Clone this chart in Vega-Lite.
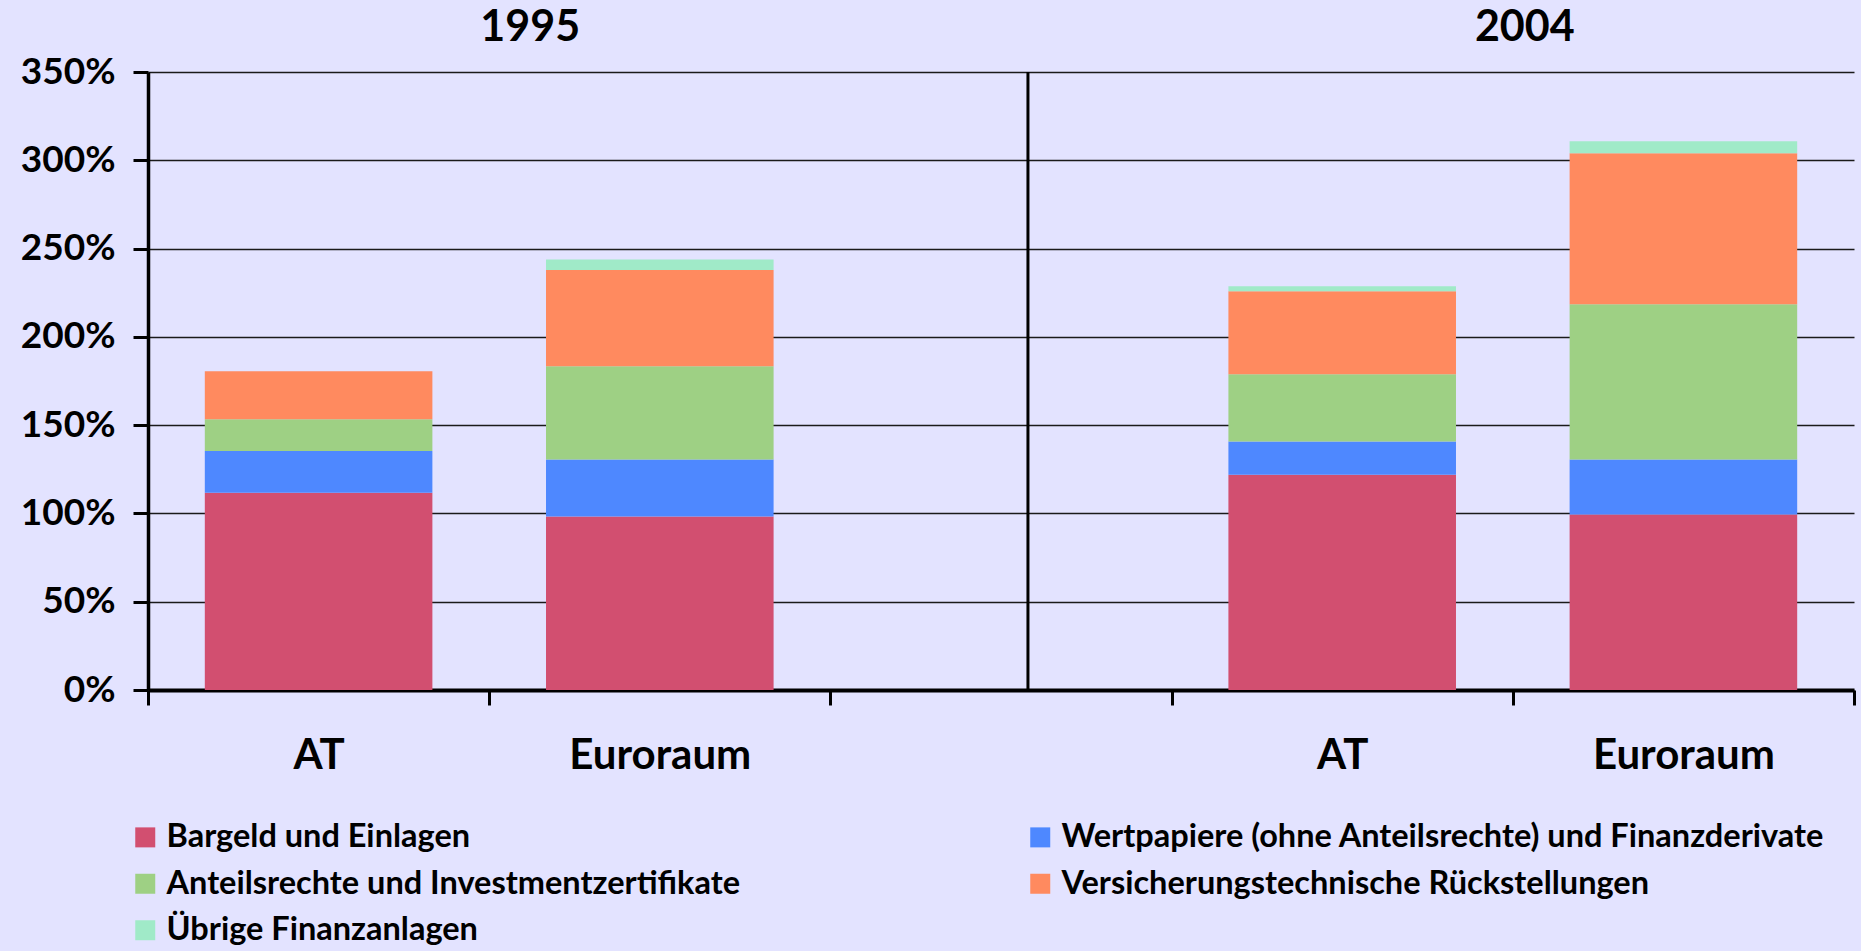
{
  "$schema": "https://vega.github.io/schema/vega-lite/v6.json",
  "width": 1706,
  "height": 618,
  "autosize": {"type": "none"},
  "padding": {"left": 148, "top": 72, "right": 7, "bottom": 261},
  "background": "#E3E3FF",
  "config": {"view": {"stroke": null}, "font": "Lato"},
  "datasets": {
    "bars": [
      {"cat": "AT 1995", "type": "Bargeld und Einlagen", "o": 1, "value": 111.7},
      {"cat": "AT 1995", "type": "Wertpapiere (ohne Anteilsrechte) und Finanzderivate", "o": 2, "value": 23.6},
      {"cat": "AT 1995", "type": "Anteilsrechte und Investmentzertifikate", "o": 3, "value": 18.0},
      {"cat": "AT 1995", "type": "Versicherungstechnische Rückstellungen", "o": 4, "value": 27.2},
      {"cat": "AT 1995", "type": "Übrige Finanzanlagen", "o": 5, "value": 0},
      {"cat": "Euroraum 1995", "type": "Bargeld und Einlagen", "o": 1, "value": 98.3},
      {"cat": "Euroraum 1995", "type": "Wertpapiere (ohne Anteilsrechte) und Finanzderivate", "o": 2, "value": 32.3},
      {"cat": "Euroraum 1995", "type": "Anteilsrechte und Investmentzertifikate", "o": 3, "value": 52.7},
      {"cat": "Euroraum 1995", "type": "Versicherungstechnische Rückstellungen", "o": 4, "value": 54.5},
      {"cat": "Euroraum 1995", "type": "Übrige Finanzanlagen", "o": 5, "value": 6.0},
      {"cat": "AT 2004", "type": "Bargeld und Einlagen", "o": 1, "value": 121.9},
      {"cat": "AT 2004", "type": "Wertpapiere (ohne Anteilsrechte) und Finanzderivate", "o": 2, "value": 18.9},
      {"cat": "AT 2004", "type": "Anteilsrechte und Investmentzertifikate", "o": 3, "value": 38.0},
      {"cat": "AT 2004", "type": "Versicherungstechnische Rückstellungen", "o": 4, "value": 47.0},
      {"cat": "AT 2004", "type": "Übrige Finanzanlagen", "o": 5, "value": 2.8},
      {"cat": "Euroraum 2004", "type": "Bargeld und Einlagen", "o": 1, "value": 99.4},
      {"cat": "Euroraum 2004", "type": "Wertpapiere (ohne Anteilsrechte) und Finanzderivate", "o": 2, "value": 31.2},
      {"cat": "Euroraum 2004", "type": "Anteilsrechte und Investmentzertifikate", "o": 3, "value": 87.8},
      {"cat": "Euroraum 2004", "type": "Versicherungstechnische Rückstellungen", "o": 4, "value": 85.6},
      {"cat": "Euroraum 2004", "type": "Übrige Finanzanlagen", "o": 5, "value": 6.8}
    ],
    "sep": [{"cat": "gap"}],
    "t1": [{"cat": "Euroraum 1995", "label": "1995"}],
    "t2": [{"cat": "Euroraum 2004", "label": "2004"}]
  },
  "layer": [
    {
      "data": {"name": "bars"},
      "mark": {"type": "bar", "width": {"band": 0.667}},
      "encoding": {
        "x": {
          "field": "cat", "type": "nominal",
          "scale": {"domain": ["AT 1995", "Euroraum 1995", "gap", "AT 2004", "Euroraum 2004"], "paddingInner": 0, "paddingOuter": 0},
          "axis": {
            "title": null, "tickBand": "extent", "grid": false, "labelAngle": 0,
            "labelExpr": "(!datum.value || datum.value == 'gap') ? '' : split(datum.value, ' ')[0]",
            "labelFont": "Lato", "labelFontSize": 42, "labelFontWeight": "bold", "labelColor": "#000",
            "labelPadding": 50, "labelBaseline": "middle", "labelLimit": 500,
            "tickSize": 15, "tickWidth": 3, "tickColor": "#000",
            "domainWidth": 4, "domainColor": "#000"
          }
        },
        "y": {
          "field": "value", "type": "quantitative", "stack": "zero",
          "scale": {"domain": [0, 350]},
          "axis": {
            "title": null, "values": [0, 50, 100, 150, 200, 250, 300, 350],
            "labelExpr": "datum.value + '%'",
            "labelFont": "Lato", "labelFontSize": 37, "labelFontWeight": "bold", "labelColor": "#000",
            "labelPadding": 18,
            "grid": true, "gridColor": "#1a1a1a", "gridWidth": 1.5,
            "tickSize": 15, "tickWidth": 3, "tickColor": "#000",
            "domainWidth": 3.5, "domainColor": "#000"
          }
        },
        "order": {"field": "o", "type": "quantitative"},
        "color": {
          "field": "type", "type": "nominal",
          "scale": {
            "domain": ["Bargeld und Einlagen", "Wertpapiere (ohne Anteilsrechte) und Finanzderivate", "Anteilsrechte und Investmentzertifikate", "Versicherungstechnische Rückstellungen", "Übrige Finanzanlagen"],
            "range": ["#D24F70", "#4E88FF", "#9ED084", "#FF8A5F", "#A0EAC8"]
          },
          "legend": {
            "orient": "none", "legendX": -19, "legendY": 749, "columns": 2, "direction": "horizontal", "title": null,
            "padding": 0, "offset": 0,
            "symbolType": "square", "symbolSize": 400, "symbolStrokeWidth": 0, "symbolOpacity": 1,
            "labelFont": "Lato", "labelFontSize": 32.5, "labelFontWeight": "bold", "labelColor": "#000",
            "labelOffset": 5, "labelLimit": 1000, "rowPadding": 13.5, "columnPadding": 283
          }
        }
      }
    },
    {
      "data": {"name": "sep"},
      "mark": {"type": "rule", "color": "#000", "strokeWidth": 3},
      "encoding": {
        "x": {"field": "cat", "type": "nominal", "bandPosition": 0.579},
        "y": {"datum": 0},
        "y2": {"datum": 350}
      }
    },
    {
      "data": {"name": "t1"},
      "mark": {"type": "text", "font": "Lato", "fontSize": 43, "fontWeight": "bold", "color": "#000", "baseline": "middle", "dx": 41},
      "encoding": {
        "x": {"field": "cat", "type": "nominal", "bandPosition": 0},
        "y": {"datum": 375},
        "text": {"field": "label"}
      }
    },
    {
      "data": {"name": "t2"},
      "mark": {"type": "text", "font": "Lato", "fontSize": 43, "fontWeight": "bold", "color": "#000", "baseline": "middle", "dx": 12},
      "encoding": {
        "x": {"field": "cat", "type": "nominal", "bandPosition": 0},
        "y": {"datum": 375},
        "text": {"field": "label"}
      }
    }
  ]
}
